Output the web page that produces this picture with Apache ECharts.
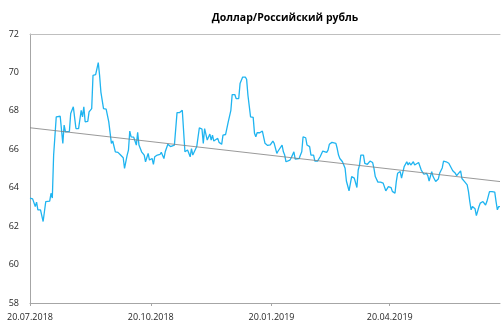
<!DOCTYPE html>
<html>
<head>
<meta charset="utf-8">
<script src="https://cdn.jsdelivr.net/npm/echarts@6/dist/echarts.min.js"></script>
<style>
  html, body { margin: 0; padding: 0; background: #fff; }
  #chart { width: 501px; height: 323px; }
</style>
</head>
<body>
<div id="chart"></div>
<script>
// USD/RUB exchange rate, July 2018 – July 2019
const chartTitle = 'Доллар/Российский рубль';

const dates = [
  '2018-07-20','2018-07-22','2018-07-24','2018-07-25','2018-07-26','2018-07-27','2018-07-28','2018-07-29','2018-07-30','2018-07-31',
  '2018-08-01','2018-08-04','2018-08-05','2018-08-06','2018-08-07','2018-08-09','2018-08-12','2018-08-13','2018-08-14','2018-08-15',
  '2018-08-16','2018-08-19','2018-08-20','2018-08-22','2018-08-24','2018-08-26','2018-08-28','2018-08-29','2018-08-30','2018-08-31',
  '2018-09-02','2018-09-03','2018-09-05','2018-09-06','2018-09-08','2018-09-10','2018-09-11','2018-09-12','2018-09-14','2018-09-16',
  '2018-09-17','2018-09-18','2018-09-20','2018-09-21','2018-09-22','2018-09-23','2018-09-25','2018-09-27','2018-09-28','2018-09-29',
  '2018-09-30','2018-10-02','2018-10-03','2018-10-04','2018-10-05','2018-10-07','2018-10-08','2018-10-09','2018-10-10','2018-10-11',
  '2018-10-13','2018-10-15','2018-10-16','2018-10-18','2018-10-19','2018-10-21','2018-10-22','2018-10-23','2018-10-25','2018-10-27',
  '2018-10-28','2018-10-30','2018-10-31','2018-11-01','2018-11-02','2018-11-04','2018-11-05','2018-11-07','2018-11-09','2018-11-11',
  '2018-11-13','2018-11-14','2018-11-15','2018-11-16','2018-11-17','2018-11-18','2018-11-19','2018-11-20','2018-11-21','2018-11-22',
  '2018-11-24','2018-11-25','2018-11-26','2018-11-28','2018-11-29','2018-11-30','2018-12-01','2018-12-02','2018-12-04','2018-12-05',
  '2018-12-06','2018-12-07','2018-12-08','2018-12-10','2018-12-11','2018-12-12','2018-12-13','2018-12-14','2018-12-16','2018-12-17',
  '2018-12-18','2018-12-20','2018-12-21','2018-12-23','2018-12-24','2018-12-26','2018-12-27','2018-12-28','2018-12-29','2018-12-31',
  '2019-01-01','2019-01-02','2019-01-04','2019-01-06','2019-01-07','2019-01-08','2019-01-09','2019-01-11','2019-01-13','2019-01-14',
  '2019-01-15','2019-01-17','2019-01-18','2019-01-19','2019-01-21','2019-01-22','2019-01-24','2019-01-25','2019-01-26','2019-01-28',
  '2019-01-29','2019-01-30','2019-01-31','2019-02-01','2019-02-03','2019-02-04','2019-02-06','2019-02-07','2019-02-08','2019-02-10',
  '2019-02-11','2019-02-12','2019-02-13','2019-02-15','2019-02-16','2019-02-18','2019-02-19','2019-02-21','2019-02-22','2019-02-24',
  '2019-02-26','2019-02-28','2019-03-01','2019-03-03','2019-03-04','2019-03-05','2019-03-07','2019-03-10','2019-03-11','2019-03-12',
  '2019-03-13','2019-03-15','2019-03-16','2019-03-17','2019-03-18','2019-03-19','2019-03-20','2019-03-22','2019-03-23','2019-03-24',
  '2019-03-26','2019-03-27','2019-03-28','2019-03-29','2019-03-31','2019-04-01','2019-04-02','2019-04-03','2019-04-05','2019-04-07',
  '2019-04-08','2019-04-09','2019-04-11','2019-04-12','2019-04-13','2019-04-15','2019-04-16','2019-04-17','2019-04-19','2019-04-20',
  '2019-04-21','2019-04-22','2019-04-24','2019-04-25','2019-04-26','2019-04-28','2019-04-29','2019-04-30','2019-05-01','2019-05-03',
  '2019-05-04','2019-05-05','2019-05-06','2019-05-08','2019-05-09','2019-05-10','2019-05-12','2019-05-13','2019-05-14','2019-05-16',
  '2019-05-18','2019-05-19','2019-05-20','2019-05-22','2019-05-23','2019-05-25','2019-05-26','2019-05-27','2019-05-28','2019-05-30',
  '2019-05-31','2019-06-02','2019-06-04','2019-06-05','2019-06-07','2019-06-09','2019-06-10','2019-06-11','2019-06-13','2019-06-14',
  '2019-06-15','2019-06-16','2019-06-18','2019-06-19','2019-06-20','2019-06-21','2019-06-22','2019-06-23','2019-06-24','2019-06-25',
  '2019-06-27','2019-06-28','2019-06-29','2019-06-30','2019-07-02','2019-07-03','2019-07-04','2019-07-05','2019-07-07','2019-07-09',
  '2019-07-10','2019-07-11','2019-07-12','2019-07-13'
];

const rates = [
  63.46,63.42,63.02,63.25,62.85,62.94,62.85,62.76,62.24,62.76,
  63.28,63.30,63.71,63.46,65.70,67.69,67.72,67.74,66.31,67.26,
  66.91,66.93,67.86,68.21,67.08,67.08,68.03,67.69,68.21,67.43,
  67.45,67.95,68.12,69.85,69.88,70.51,69.85,68.98,68.12,68.09,
  68.06,67.43,66.31,66.43,66.40,65.87,65.84,65.70,65.61,65.56,
  65.01,65.70,65.96,66.95,66.65,66.63,66.57,66.22,66.88,66.22,
  65.87,65.70,65.35,65.79,65.44,65.52,65.22,65.61,65.70,65.73,
  65.84,65.52,65.87,65.79,66.26,66.14,66.09,66.22,67.91,67.91,
  68.03,68.09,65.87,65.87,65.96,65.79,65.61,66.04,65.70,65.61,
  66.14,66.22,67.12,67.05,66.31,67.08,67.05,66.48,66.79,66.48,
  66.74,66.43,66.43,66.57,66.36,66.36,66.26,66.74,66.77,66.77,
  67.43,68.03,68.85,68.85,68.64,68.64,69.42,69.50,69.76,69.76,
  69.64,68.81,67.69,67.66,66.83,66.65,66.86,66.86,66.95,67.00,
  66.31,66.20,66.20,66.23,66.43,66.31,65.79,65.91,65.96,66.22,
  65.87,65.70,65.35,65.38,65.44,65.56,65.87,65.49,65.49,65.52,
  65.70,65.87,66.65,66.60,66.22,66.14,65.70,65.70,65.38,65.38,
  65.61,65.91,65.91,65.84,65.96,66.26,66.36,66.31,66.04,65.70,
  65.52,65.35,65.27,65.01,64.35,64.40,63.84,64.58,64.63,64.50,
  64.01,64.92,65.18,65.70,65.70,65.27,65.35,65.22,65.38,65.31,
  65.01,64.58,64.29,64.35,64.29,64.24,64.24,63.84,64.06,63.98,
  64.01,63.81,63.71,64.32,64.75,64.84,64.50,64.58,65.10,65.35,
  65.18,65.31,65.18,65.35,65.18,65.27,65.31,65.35,64.92,64.70,
  64.75,64.63,64.35,64.84,64.58,64.32,64.40,64.45,64.75,65.03,
  65.39,65.35,65.27,65.27,64.88,64.75,64.63,64.63,64.88,64.48,
  64.45,64.32,64.15,63.80,63.28,62.85,63.02,62.97,62.90,62.55,
  63.02,63.20,63.15,63.28,63.10,63.28,63.28,63.80,63.80,63.77,
  63.28,62.85,63.02,63.02
];

// Linear trend: value at the first and last date
const trendDates = ['2018-07-20', '2019-07-13'];
const trendValues = [67.12, 64.32];

// Axis ticks
const xTickDates = ['2018-07-20', '2018-10-20', '2019-01-20', '2019-04-20'];
const yTicks = [58, 60, 62, 64, 66, 68, 70, 72];

const ts = s => { const [y, m, d] = s.split('-').map(Number); return Date.UTC(y, m - 1, d); };
const fmtDate = v => {
  const d = new Date(v);
  const p = n => String(n).padStart(2, '0');
  return p(d.getUTCDate()) + '.' + p(d.getUTCMonth() + 1) + '.' + d.getUTCFullYear();
};

const xMin = ts(xTickDates[0]);
const xMax = ts(trendDates[1]);
const font = "'Open Sans', 'DejaVu Sans', sans-serif";

const chart = echarts.init(document.getElementById('chart'), null, { renderer: 'canvas' });
chart.setOption({
  animation: false,
  backgroundColor: '#ffffff',
  title: {
    text: chartTitle,
    left: 280, top: 8, textAlign: 'center',
    textStyle: { fontFamily: font, fontSize: 10.5, fontWeight: 'bold', color: '#000' }
  },
  grid: { left: 30, right: 1, top: 34, bottom: 20, containLabel: false },
  xAxis: [{
    type: 'value',
    min: xMin, max: xMax,
    axisLine: { show: true, lineStyle: { color: '#a6a6a6', width: 1 } },
    axisTick: { show: true, length: 3, lineStyle: { color: '#a6a6a6' }, customValues: xTickDates.map(ts) },
    axisLabel: {
      customValues: xTickDates.map(ts),
      formatter: v => fmtDate(v),
      fontFamily: font, fontSize: 9, color: '#262626', margin: 10,
      showMinLabel: true, hideOverlap: false
    },
    splitLine: { show: false }
  }, {
    type: 'value', position: 'top',
    min: xMin, max: xMax,
    axisLine: { show: true, lineStyle: { color: '#bfbfbf', width: 1 } },
    axisTick: { show: false }, axisLabel: { show: false }, splitLine: { show: false }
  }],
  yAxis: {
    type: 'value',
    min: yTicks[0], max: yTicks[yTicks.length - 1], interval: 2,
    axisLine: { show: true, lineStyle: { color: '#a6a6a6', width: 1 } },
    axisTick: { show: false },
    axisLabel: { fontFamily: font, fontSize: 9, color: '#262626', margin: 11 },
    splitLine: { show: false }
  },
  series: [{
    name: 'USD/RUB',
    type: 'line',
    xAxisIndex: 0,
    showSymbol: false,
    data: dates.map((d, i) => [ts(d), rates[i]]),
    lineStyle: { color: '#1fb4f0', width: 1.3 },
    itemStyle: { color: '#1fb4f0' },
    z: 3
  }, {
    name: 'Trend',
    type: 'line',
    xAxisIndex: 0,
    showSymbol: false,
    data: trendDates.map((d, i) => [ts(d), trendValues[i]]),
    lineStyle: { color: '#7f7f7f', width: 0.8 },
    z: 4
  }]
});
</script>
</body>
</html>
